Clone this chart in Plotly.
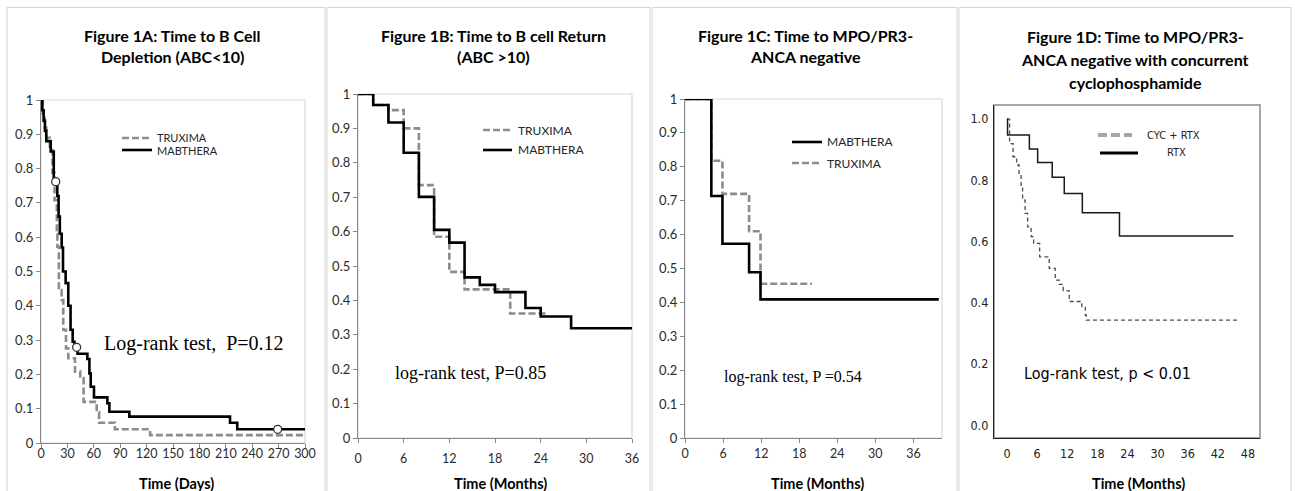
import plotly.graph_objects as go

W, H = 1295, 491

# ---------------- data ----------------
# Figure 1A (days)
A_mab_t = [0, 1.5, 3, 4.5, 6, 11, 14.5, 18.5, 20, 21.4, 23.5, 25, 28, 31, 33.6, 36, 38, 41.5, 52.7, 55, 56.5, 60.2, 75.4, 77.7, 100.4, 214.8, 223, 300]
A_mab_s = [1.0, 0.97, 0.94, 0.91, 0.88, 0.85, 0.76, 0.72, 0.66, 0.61, 0.57, 0.50, 0.466, 0.40, 0.33, 0.295, 0.279, 0.26, 0.245, 0.203, 0.164, 0.133, 0.116, 0.091, 0.077, 0.059, 0.040, 0.040]
A_tru_t = [0, 2, 4, 6, 10, 13, 15.4, 18, 18.6, 20.3, 23.4, 25.3, 28.4, 31, 38.6, 44.6, 48.4, 63.3, 66, 84, 124, 300]
A_tru_s = [1.0, 0.96, 0.92, 0.89, 0.864, 0.787, 0.708, 0.61, 0.572, 0.446, 0.417, 0.33, 0.276, 0.247, 0.208, 0.189, 0.12, 0.09, 0.059, 0.04, 0.023, 0.023]
A_cens_t = [16.7, 40.5, 269]
A_cens_s = [0.762, 0.279, 0.040]

# Figure 1B (months)
B_mab_t = [0, 2, 4, 6, 8, 10, 12, 14, 16, 18, 22, 24, 28, 36]
B_mab_s = [1.0, 0.968, 0.917, 0.829, 0.701, 0.605, 0.568, 0.467, 0.445, 0.424, 0.378, 0.353, 0.319, 0.319]
B_tru_t = [0, 2, 4, 6, 8, 10, 12, 14, 20, 25]
B_tru_s = [1.0, 0.968, 0.953, 0.90, 0.735, 0.585, 0.483, 0.432, 0.362, 0.362]

# Figure 1C (months)
C_mab_t = [0, 4.15, 5.9, 10.1, 11.9, 40]
C_mab_s = [1.0, 0.714, 0.573, 0.489, 0.409, 0.409]
C_tru_t = [0, 4.15, 5.9, 10.1, 11.9, 20]
C_tru_s = [1.0, 0.818, 0.72, 0.61, 0.455, 0.455]

# Figure 1D (months)
D_rtx_t = [0, 0.1, 4.45, 6.1, 9.0, 11.4, 15.0, 22.4, 45.1]
D_rtx_s = [1.0, 0.948, 0.902, 0.858, 0.81, 0.757, 0.694, 0.618, 0.618]
D_cyc_t = [0, 0.5, 1.2, 1.9, 2.4, 2.8, 3.1, 3.6, 4.1, 4.8, 5.3, 6.5, 8.4, 9.6, 10.4, 11.2, 12.4, 14.9, 15.6, 15.8, 46]
D_cyc_s = [1.0, 0.92, 0.877, 0.85, 0.822, 0.779, 0.735, 0.692, 0.648, 0.616, 0.594, 0.55, 0.512, 0.474, 0.46, 0.439, 0.404, 0.387, 0.359, 0.343, 0.343]

A_xticks = [0, 30, 60, 90, 120, 150, 180, 210, 240, 270, 300]
BC_xticks = [0, 6, 12, 18, 24, 30, 36]
D_xticks = [0, 6, 12, 18, 24, 30, 36, 42, 48]
ABC_yticks = [0, 0.1, 0.2, 0.3, 0.4, 0.5, 0.6, 0.7, 0.8, 0.9, 1]
ABC_ytext = ["0", "0.1", "0.2", "0.3", "0.4", "0.5", "0.6", "0.7", "0.8", "0.9", "1"]
D_yticks = [0, 0.2, 0.4, 0.6, 0.8, 1.0]
D_ytext = ["0.0", "0.2", "0.4", "0.6", "0.8", "1.0"]

titles = {
    "A": ["Figure 1A: Time to B Cell", "Depletion (ABC<10)"],
    "B": ["Figure 1B: Time to B cell Return", "(ABC >10)"],
    "C": ["Figure 1C: Time to MPO/PR3-", "ANCA negative"],
    "D": ["Figure 1D: Time to MPO/PR3-", "ANCA negative with concurrent", "cyclophosphamide"],
}
xtitles = {"A": "Time (Days)", "B": "Time (Months)", "C": "Time (Months)", "D": "Time (Months)"}
pvals = {"A": "Log-rank test,  P=0.12", "B": "log-rank test, P=0.85",
         "C": "log-rank test, P =0.54", "D": "Log-rank test, p < 0.01"}

# ---------------- helpers ----------------
def px(x):
    return x / W

def py(y):
    return 1 - y / H

SANS = "Lato, Carlito, Open Sans, sans-serif"
NARROW = "Liberation Sans Narrow, DejaVu Sans Condensed, Arial Narrow, sans-serif"
SERIF = "Liberation Serif, Times New Roman, serif"
AXC = "#878787"
GRAY = "#8c8c8c"
NB = "\u00a0\u00a0"

fig = go.Figure()

def step(t, s, xa, ya, color, width, dash, name):
    fig.add_trace(go.Scatter(x=t, y=s, xaxis=xa, yaxis=ya, mode="lines", line_shape="hv",
                             line=dict(color=color, width=width, dash=dash), name=name,
                             showlegend=False, hoverinfo="skip"))

DASH = "7px,3px"
step(A_tru_t, A_tru_s, "x", "y", GRAY, 2.6, DASH, "TRUXIMA")
step(A_mab_t, A_mab_s, "x", "y", "black", 2.6, "solid", "MABTHERA")
fig.add_trace(go.Scatter(x=A_cens_t, y=A_cens_s, xaxis="x", yaxis="y", mode="markers",
                         marker=dict(symbol="circle", size=8, color="white", line=dict(color="#333", width=1.3)),
                         showlegend=False, hoverinfo="skip"))
step(B_tru_t, B_tru_s, "x2", "y2", GRAY, 2.6, DASH, "TRUXIMA")
step(B_mab_t, B_mab_s, "x2", "y2", "black", 2.6, "solid", "MABTHERA")
step(C_tru_t, C_tru_s, "x3", "y3", GRAY, 2.6, DASH, "TRUXIMA")
step(C_mab_t, C_mab_s, "x3", "y3", "black", 2.6, "solid", "MABTHERA")
step(D_cyc_t, D_cyc_s, "x4", "y4", "#4d4d4d", 1.3, "4px,3px", "CYC + RTX")
step(D_rtx_t, D_rtx_s, "x4", "y4", "#1a1a1a", 1.5, "solid", "RTX")

# ---------------- axes ----------------
xtickfont = dict(family=SANS, size=12.5, color="#2b2b2b")
ytickfont = dict(family=SANS, size=13, color="#2b2b2b")

def abc_axes(n, xd, yd, xr, xticks, xstand):
    sfx = "" if n == 1 else str(n)
    fig.update_layout({
        "xaxis" + sfx: dict(domain=[px(xd[0]), px(xd[1])], range=xr, anchor="y" + sfx, automargin=False,
                            tickmode="array", tickvals=xticks, ticksuffix=NB,
                            showline=True, linecolor=AXC, linewidth=1.3, ticks="outside",
                            ticklen=4, tickcolor=AXC, tickwidth=1.3, showgrid=False, zeroline=False,
                            tickfont=xtickfont, ticklabelstandoff=xstand, fixedrange=True),
        "yaxis" + sfx: dict(domain=[py(yd[1]), py(yd[0])], range=[0, 1], anchor="x" + sfx, automargin=False,
                            tickmode="array", tickvals=ABC_yticks, ticktext=ABC_ytext, ticksuffix=NB,
                            showline=True, linecolor=AXC, linewidth=1.3, ticks="outside",
                            ticklen=4, tickcolor=AXC, tickwidth=1.3, showgrid=False, zeroline=False,
                            tickfont=ytickfont, fixedrange=True),
    })

abc_axes(1, (41, 305), (100, 443), [0, 300], A_xticks, -5)
abc_axes(2, (358, 632), (94, 438), [0, 36], BC_xticks, 5)
abc_axes(3, (685, 942), (99, 438), [0, 40.5], BC_xticks, 0)

dfont = dict(family=NARROW, size=12.5, color="#222222")
fig.update_layout(
    xaxis4=dict(domain=[px(994), px(1260)], range=[-2.6, 50.4], anchor="y4", automargin=False,
                tickmode="array", tickvals=D_xticks, showline=True, linecolor="#222", linewidth=1.3,
                ticks="", showgrid=False, zeroline=False, tickfont=dfont, ticklabelstandoff=4, fixedrange=True),
    yaxis4=dict(domain=[py(438), py(105)], range=[-0.042, 1.046], anchor="x4", automargin=False,
                tickmode="array", tickvals=D_yticks, ticktext=D_ytext, showline=True, linecolor="#222",
                linewidth=1.3, ticks="", showgrid=False, zeroline=False, tickfont=dfont,
                ticklabelstandoff=2, fixedrange=True),
)

shapes = []
# panel borders
for x0, x1 in [(7, 325), (327, 650), (652, 957), (959, 1291)]:
    shapes.append(dict(type="rect", xref="paper", yref="paper", x0=px(x0), x1=px(x1), y0=py(500), y1=py(7.5),
                       line=dict(color="#d4d4d4", width=1), layer="below"))
# plot area borders
for n in ["", "2", "3"]:
    shapes.append(dict(type="rect", xref="x%s domain" % n, yref="y%s domain" % n, x0=0, x1=1, y0=0, y1=1,
                       line=dict(color="#d9d9d9", width=1.2), layer="below"))
shapes.append(dict(type="rect", xref="x4 domain", yref="y4 domain", x0=0, x1=1, y0=0, y1=1,
                   line=dict(color="#a6a6a6", width=2), layer="below"))

# legend samples (pixel positions)
def leg_line(x0, x1, y, color, width, dash):
    shapes.append(dict(type="line", xref="paper", yref="paper", x0=px(x0), x1=px(x1), y0=py(y), y1=py(y),
                       line=dict(color=color, width=width, dash=dash)))

annots = []
def text(x, y, s, font, xanchor="center", yanchor="middle"):
    annots.append(dict(x=px(x), y=py(y), xref="paper", yref="paper", text=s, showarrow=False,
                       xanchor=xanchor, yanchor=yanchor, font=font, borderpad=0))

lfont = dict(family=SANS, size=12, color="#262626")
lfontA = dict(family=SANS, size=11, color="#262626")
leg_line(122, 152, 138, GRAY, 2.6, DASH); text(156, 137.5, "TRUXIMA", lfontA, "left")
leg_line(122, 152, 150, "black", 2.6, "solid"); text(156, 150.5, "MABTHERA", lfontA, "left")
leg_line(483, 512, 130, GRAY, 2.6, DASH); text(517, 130, "TRUXIMA", lfont, "left")
leg_line(483, 512, 150, "black", 2.6, "solid"); text(517, 150, "MABTHERA", lfont, "left")
leg_line(792, 822, 142, "black", 2.6, "solid"); text(826, 142, "MABTHERA", lfont, "left")
leg_line(792, 822, 163, GRAY, 2.6, DASH); text(826, 163, "TRUXIMA", lfont, "left")
dlfont = dict(family=NARROW, size=11, color="#222222")
leg_line(1098, 1132, 135, "#a6a6a6", 4, "9px,4px"); text(1146, 135, "CYC + RTX", dlfont, "left")
leg_line(1100, 1138, 153, "black", 3, "solid"); text(1166, 153, "RTX", dlfont, "left")

# titles
tfont = dict(family=SANS, size=16, color="black", weight="bold")
for key, cx, ys in [("A", 172, [35, 57]), ("B", 493, [35, 56]), ("C", 805, [35, 57]), ("D", 1135, [36, 59, 82])]:
    for line, yy in zip(titles[key], ys):
        text(cx, yy, line, tfont)

# axis titles
afont = dict(family=SANS, size=14.5, color="black", weight="bold")
for key, cx in [("A", 177), ("B", 500), ("C", 817), ("D", 1138)]:
    text(cx, 483, xtitles[key], afont)

# log-rank annotations
text(194, 343, pvals["A"], dict(family=SERIF, size=20, color="black"))
text(471, 373, pvals["B"], dict(family=SERIF, size=18, color="black"))
text(793, 377, pvals["C"], dict(family=SERIF, size=16, color="black"))
text(1107, 373, pvals["D"], dict(family=NARROW, size=16, color="black"))

fig.update_layout(width=W, height=H, margin=dict(l=0, r=0, t=0, b=0, autoexpand=False), showlegend=False,
                  paper_bgcolor="white", plot_bgcolor="white", shapes=shapes, annotations=annots)

post = ("document.body.style.margin='0';document.body.style.padding='0';"
        "var gd=document.getElementById('{plot_id}');gd.style.position='absolute';"
        "gd.style.left='0px';gd.style.top='0px';")
fig.write_html("out.html", post_script=post, config={"displayModeBar": False})
